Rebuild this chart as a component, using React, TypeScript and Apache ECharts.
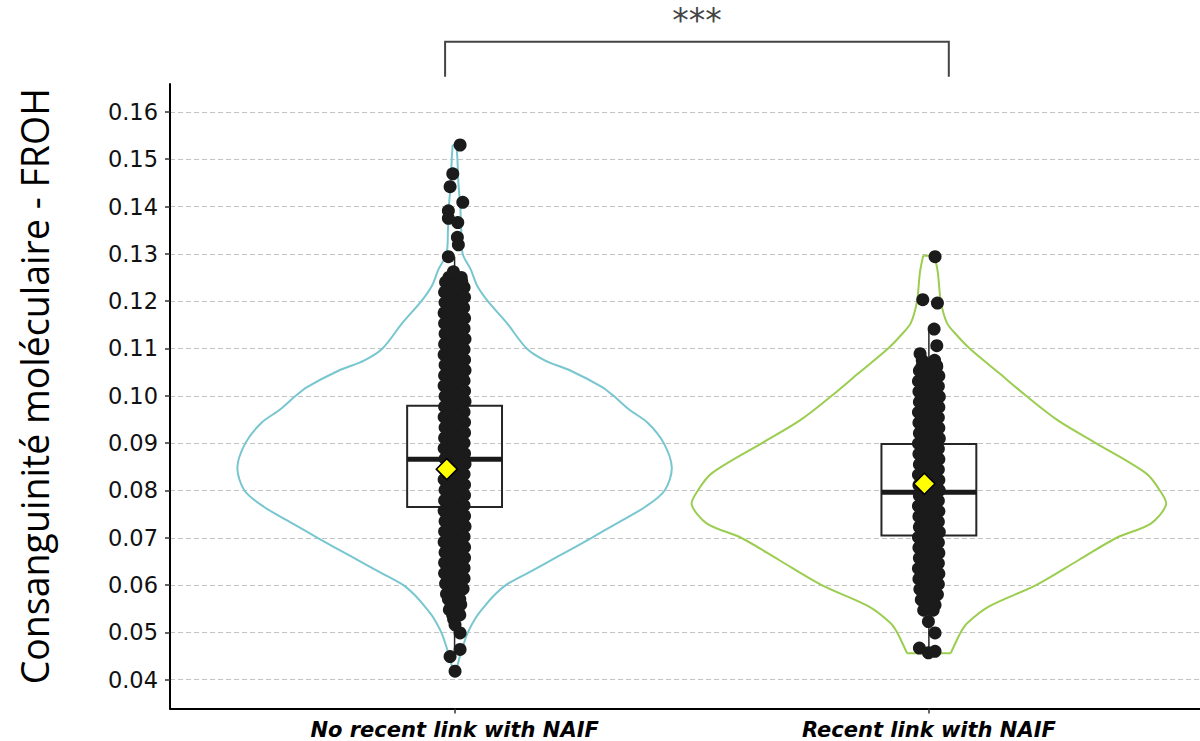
import React, { useEffect, useRef } from 'react';
import * as echarts from 'echarts';

// ---------- data ----------
const categories = ['No recent link with NAIF', 'Recent link with NAIF'];
const groupX = [1, 2];
const yTicks = [0.04, 0.05, 0.06, 0.07, 0.08, 0.09, 0.1, 0.11, 0.12, 0.13, 0.14, 0.15, 0.16];
const violinColors = ['#78C6CF', '#9BCD50'];

// violin outline: [value, half-width in x-axis units]
const violin1: [number, number][] = [
  [0.0418, 0.002], [0.0430, 0.006], [0.0449, 0.011], [0.0475, 0.019], [0.0500, 0.028],
  [0.0530, 0.044], [0.0555, 0.063], [0.0578, 0.083], [0.0600, 0.108], [0.0626, 0.155],
  [0.0661, 0.219], [0.0700, 0.289], [0.0731, 0.343], [0.0766, 0.403], [0.0800, 0.443],
  [0.0848, 0.458], [0.0900, 0.441], [0.0943, 0.407], [0.0971, 0.368], [0.1000, 0.335],
  [0.1018, 0.312], [0.1053, 0.245], [0.1075, 0.190], [0.1100, 0.152], [0.1154, 0.110],
  [0.1200, 0.070], [0.1232, 0.048], [0.1267, 0.034], [0.1300, 0.017], [0.1350, 0.014],
  [0.1400, 0.012], [0.1450, 0.008], [0.1500, 0.006], [0.1530, 0.004],
];
const violin2: [number, number][] = [
  [0.0456, 0.046], [0.0484, 0.059], [0.0500, 0.067], [0.0519, 0.080], [0.0555, 0.127],
  [0.0600, 0.226], [0.0653, 0.316], [0.0700, 0.396], [0.0730, 0.468], [0.0770, 0.500],
  [0.0800, 0.487], [0.0836, 0.458], [0.0900, 0.352], [0.0948, 0.272], [0.1000, 0.205],
  [0.1048, 0.148], [0.1100, 0.086], [0.1130, 0.057], [0.1154, 0.038], [0.1200, 0.025],
  [0.1260, 0.019], [0.1296, 0.012],
];

// box stats: [lower whisker, Q1, median, Q3, upper whisker]
const boxStats = [
  [0.0445, 0.0765, 0.0866, 0.0979, 0.1294],
  [0.0458, 0.0705, 0.0796, 0.0898, 0.1141],
];
const means = [0.0845, 0.0814];
const meanJitter = [-0.0165, -0.0095];

// jittered points, dense part: [value, jitter A, jitter B]
const g1Rows: [number, number, number][] = [
  [0.1250, -0.012, 0.014], [0.1240, -0.019, 0.005], [0.1229, -0.005, 0.020], [0.1219, -0.021, 0.004],
  [0.1208, -0.006, 0.021], [0.1197, -0.020, 0.006], [0.1186, -0.004, 0.019], [0.1175, -0.022, 0.005],
  [0.1164, -0.005, 0.021], [0.1153, -0.021, 0.004], [0.1142, -0.006, 0.020], [0.1131, -0.020, 0.006],
  [0.1120, -0.004, 0.022], [0.1109, -0.021, 0.005], [0.1098, -0.005, 0.020], [0.1087, -0.022, 0.004],
  [0.1076, -0.006, 0.021], [0.1065, -0.020, 0.006], [0.1054, -0.004, 0.022], [0.1043, -0.021, 0.005],
  [0.1032, -0.005, 0.020], [0.1021, -0.022, 0.004], [0.1010, -0.006, 0.021], [0.0999, -0.020, 0.006],
  [0.0988, -0.004, 0.022], [0.0977, -0.021, 0.005], [0.0966, -0.005, 0.020], [0.0955, -0.022, 0.004],
  [0.0944, -0.006, 0.021], [0.0933, -0.020, 0.006], [0.0922, -0.004, 0.021], [0.0911, -0.021, 0.005],
  [0.0900, -0.005, 0.020], [0.0889, -0.022, 0.004], [0.0878, -0.006, 0.021], [0.0867, -0.020, 0.006],
  [0.0856, -0.004, 0.022], [0.0845, -0.021, 0.005], [0.0834, -0.005, 0.020], [0.0823, -0.022, 0.004],
  [0.0812, -0.006, 0.021], [0.0801, -0.020, 0.006], [0.0790, -0.004, 0.021], [0.0779, -0.021, 0.005],
  [0.0768, -0.005, 0.020], [0.0757, -0.022, 0.004], [0.0746, -0.006, 0.021], [0.0735, -0.020, 0.006],
  [0.0724, -0.004, 0.022], [0.0713, -0.021, 0.005], [0.0702, -0.005, 0.020], [0.0691, -0.022, 0.004],
  [0.0680, -0.006, 0.021], [0.0669, -0.020, 0.006], [0.0658, -0.004, 0.021], [0.0647, -0.021, 0.005],
  [0.0636, -0.005, 0.020], [0.0625, -0.021, 0.004], [0.0614, -0.005, 0.020], [0.0603, -0.019, 0.006],
  [0.0592, -0.004, 0.018], [0.0581, -0.017, 0.005], [0.0570, -0.013, 0.011], [0.0559, -0.007, 0.013],
  [0.0548, -0.011, 0.007], [0.0537, -0.004, 0.011],
];
// sparse points: [jitter, value]
const g1Sparse: [number, number][] = [
  [0.0116, 0.1530], [-0.0038, 0.1469], [-0.0095, 0.1442], [0.0173, 0.1409], [-0.0131, 0.1391],
  [-0.0131, 0.1375], [0.0067, 0.1366], [0.0059, 0.1335], [0.0080, 0.1319], [-0.0131, 0.1294],
  [-0.0025, 0.1262], [0.0152, 0.1241],
  [-0.002, 0.0528], [0.001, 0.0516], [0.0116, 0.0499], [0.0116, 0.0464], [-0.0095, 0.0449], [0.001, 0.0418],
];

const g2Rows: [number, number, number][] = [
  [0.1075, -0.014, 0.012], [0.1064, -0.007, 0.016], [0.1053, -0.020, 0.005], [0.1042, -0.005, 0.021],
  [0.1031, -0.022, 0.004], [0.1020, -0.006, 0.020], [0.1009, -0.021, 0.005], [0.0998, -0.004, 0.022],
  [0.0987, -0.020, 0.006], [0.0976, -0.005, 0.021], [0.0965, -0.022, 0.004], [0.0954, -0.006, 0.020],
  [0.0943, -0.021, 0.005], [0.0932, -0.004, 0.021], [0.0921, -0.020, 0.006], [0.0910, -0.005, 0.022],
  [0.0899, -0.022, 0.004], [0.0888, -0.006, 0.020], [0.0877, -0.021, 0.005], [0.0866, -0.004, 0.021],
  [0.0855, -0.020, 0.006], [0.0844, -0.005, 0.020], [0.0833, -0.022, 0.004], [0.0822, -0.006, 0.021],
  [0.0811, -0.021, 0.005], [0.0800, -0.004, 0.022], [0.0789, -0.020, 0.006], [0.0778, -0.005, 0.020],
  [0.0767, -0.022, 0.004], [0.0756, -0.006, 0.021], [0.0745, -0.021, 0.005], [0.0734, -0.004, 0.020],
  [0.0723, -0.020, 0.006], [0.0712, -0.005, 0.022], [0.0701, -0.022, 0.004], [0.0690, -0.006, 0.020],
  [0.0679, -0.021, 0.005], [0.0668, -0.004, 0.021], [0.0657, -0.020, 0.006], [0.0646, -0.005, 0.020],
  [0.0635, -0.022, 0.004], [0.0624, -0.006, 0.021], [0.0613, -0.021, 0.005], [0.0602, -0.004, 0.020],
  [0.0591, -0.019, 0.006], [0.0580, -0.005, 0.018], [0.0569, -0.016, 0.007], [0.0558, -0.007, 0.013],
  [0.0547, -0.011, 0.009],
];
const g2Sparse: [number, number][] = [
  [0.0130, 0.1294], [-0.0129, 0.1203], [0.0180, 0.1196], [0.0110, 0.1141], [0.0167, 0.1106],
  [-0.0186, 0.1089], [-0.0148, 0.1062], [0.0167, 0.1062],
  [-0.0010, 0.0523], [0.0130, 0.0499], [-0.0200, 0.0467], [0.0130, 0.0460], [-0.0010, 0.0457],
];

// significance bracket
const bracketX = [0.98, 2.042];
const bracketY = [0.1674, 0.1748];
const sigLabel = '***';

// ---------- build ----------
const pointsFrom = (cx: number, rows: [number, number, number][], sparse: [number, number][]) => {
  const out: number[][] = [];
  rows.forEach(([v, a, b]) => {
    out.push([cx + a, v]);
    out.push([cx + b, v]);
  });
  sparse.forEach(([j, v]) => out.push([cx + j, v]));
  return out;
};

const violins = [violin1, violin2];

export default function App() {
  const ref = useRef<HTMLDivElement>(null);

  useEffect(() => {
    if (!ref.current) return;
    const chart = echarts.init(ref.current, null, { renderer: 'svg' });
    const axisLineStyle = { color: '#000', width: 2 };
    const points = pointsFrom(groupX[0], g1Rows, g1Sparse).concat(pointsFrom(groupX[1], g2Rows, g2Sparse));

    const option: any = {
      animation: false,
      backgroundColor: '#ffffff',
      grid: { left: 170, top: 84, right: 0, height: 624.5 },
      xAxis: {
        type: 'value',
        min: 0.4,
        max: 2.5716,
        axisLine: { show: true, onZero: false, lineStyle: axisLineStyle },
        axisTick: { show: true, length: 5, customValues: groupX, lineStyle: { color: '#333', width: 1.5 } },
        axisLabel: {
          customValues: groupX,
          formatter: (v: number) => {
            const i = groupX.indexOf(Math.round(v));
            return i >= 0 ? categories[i] : '';
          },
          fontFamily: 'DejaVu Sans',
          fontSize: 21,
          fontWeight: 'bold',
          fontStyle: 'italic',
          color: '#000',
          margin: 11,
        },
        splitLine: { show: false },
      },
      yAxis: {
        type: 'value',
        min: 0.03392,
        max: 0.16589,
        name: 'Consanguinité moléculaire - FROH',
        nameLocation: 'middle',
        nameGap: 117,
        nameTextStyle: { fontFamily: 'Open Sans', fontSize: 37.5, color: '#000', padding: [0, 0, 0, 20] },
        axisLine: { show: true, onZero: false, lineStyle: axisLineStyle },
        axisTick: { show: true, length: 5, customValues: yTicks, lineStyle: { color: '#333', width: 1.5 } },
        axisLabel: {
          customValues: yTicks,
          formatter: (v: number) => v.toFixed(2),
          fontFamily: 'DejaVu Sans',
          fontSize: 22.5,
          color: '#111',
          margin: 12,
        },
        splitLine: { show: true, lineStyle: { type: [5, 3], color: '#C4C4C4', width: 1 } },
      },
      series: [
        {
          type: 'custom',
          name: 'violin',
          coordinateSystem: 'cartesian2d',
          data: [[1, 0.08], [2, 0.08]],
          encode: { x: 0, y: 1 },
          clip: false,
          silent: true,
          z: 1,
          renderItem: (params: any, api: any) => {
            const i = params.dataIndex;
            const prof = violins[i];
            const c = groupX[i];
            const right = prof.map(([v, h]) => api.coord([c + h, v]));
            const left = prof.map(([v, h]) => api.coord([c - h, v]));
            const n = prof.length - 1;
            const style = { fill: 'none', stroke: violinColors[i], lineWidth: 2 };
            return {
              type: 'group',
              children: [
                { type: 'polyline', shape: { points: right, smooth: 0.3 }, style },
                { type: 'polyline', shape: { points: left, smooth: 0.3 }, style },
                { type: 'line', shape: { x1: left[0][0], y1: left[0][1], x2: right[0][0], y2: right[0][1] }, style },
                { type: 'line', shape: { x1: left[n][0], y1: left[n][1], x2: right[n][0], y2: right[n][1] }, style },
              ],
            };
          },
        },
        {
          type: 'custom',
          name: 'box',
          coordinateSystem: 'cartesian2d',
          data: [[1, 0.08], [2, 0.08]],
          encode: { x: 0, y: 1 },
          silent: true,
          z: 2,
          renderItem: (params: any, api: any) => {
            const i = params.dataIndex;
            const [lo, q1, med, q3, hi] = boxStats[i];
            const c = groupX[i];
            const hw = 0.1;
            const tl = api.coord([c - hw, q3]);
            const br = api.coord([c + hw, q1]);
            const mL = api.coord([c - hw, med]);
            const mR = api.coord([c + hw, med]);
            const wTop = api.coord([c, hi]);
            const wQ3 = api.coord([c, q3]);
            const wQ1 = api.coord([c, q1]);
            const wBot = api.coord([c, lo]);
            const stroke = '#262626';
            return {
              type: 'group',
              children: [
                { type: 'line', shape: { x1: wTop[0], y1: wTop[1], x2: wQ3[0], y2: wQ3[1] }, style: { stroke, lineWidth: 1.5 } },
                { type: 'line', shape: { x1: wQ1[0], y1: wQ1[1], x2: wBot[0], y2: wBot[1] }, style: { stroke, lineWidth: 1.5 } },
                { type: 'rect', shape: { x: tl[0], y: tl[1], width: br[0] - tl[0], height: br[1] - tl[1] }, style: { fill: 'none', stroke, lineWidth: 2 } },
                { type: 'line', shape: { x1: mL[0], y1: mL[1], x2: mR[0], y2: mR[1] }, style: { stroke: '#1a1a1a', lineWidth: 5 } },
              ],
            };
          },
        },
        {
          type: 'scatter',
          name: 'points',
          data: points,
          symbol: 'circle',
          symbolSize: 13,
          silent: true,
          z: 3,
          itemStyle: { color: '#1B1B1B', opacity: 1 },
        },
        {
          type: 'scatter',
          name: 'mean',
          data: means.map((m, i) => [groupX[i] + meanJitter[i], m]),
          symbol: 'diamond',
          symbolSize: 21,
          silent: true,
          z: 4,
          itemStyle: { color: '#FFFF00', borderColor: '#000', borderWidth: 1.5, opacity: 1 },
        },
        {
          type: 'custom',
          name: 'bracket',
          coordinateSystem: 'cartesian2d',
          data: [[1.5, 0.17]],
          encode: { x: 0, y: 1 },
          clip: false,
          silent: true,
          z: 5,
          renderItem: (params: any, api: any) => {
            const p1 = api.coord([bracketX[0], bracketY[0]]);
            const p2 = api.coord([bracketX[0], bracketY[1]]);
            const p3 = api.coord([bracketX[1], bracketY[1]]);
            const p4 = api.coord([bracketX[1], bracketY[0]]);
            const mid = api.coord([(bracketX[0] + bracketX[1]) / 2, bracketY[1]]);
            return {
              type: 'group',
              children: [
                { type: 'polyline', shape: { points: [p1, p2, p3, p4] }, style: { fill: 'none', stroke: '#444', lineWidth: 2 } },
                {
                  type: 'text',
                  x: mid[0],
                  y: mid[1] - 21,
                  style: { text: sigLabel, fill: '#444', fontSize: 33, fontFamily: 'DejaVu Sans', align: 'center', verticalAlign: 'middle' },
                },
              ],
            };
          },
        },
      ],
    };

    chart.setOption(option);
    return () => chart.dispose();
  }, []);

  return (
    <div
      ref={ref}
      style={{ position: 'fixed', left: 0, top: 0, width: 1200, height: 741, background: '#fff' }}
    />
  );
}
